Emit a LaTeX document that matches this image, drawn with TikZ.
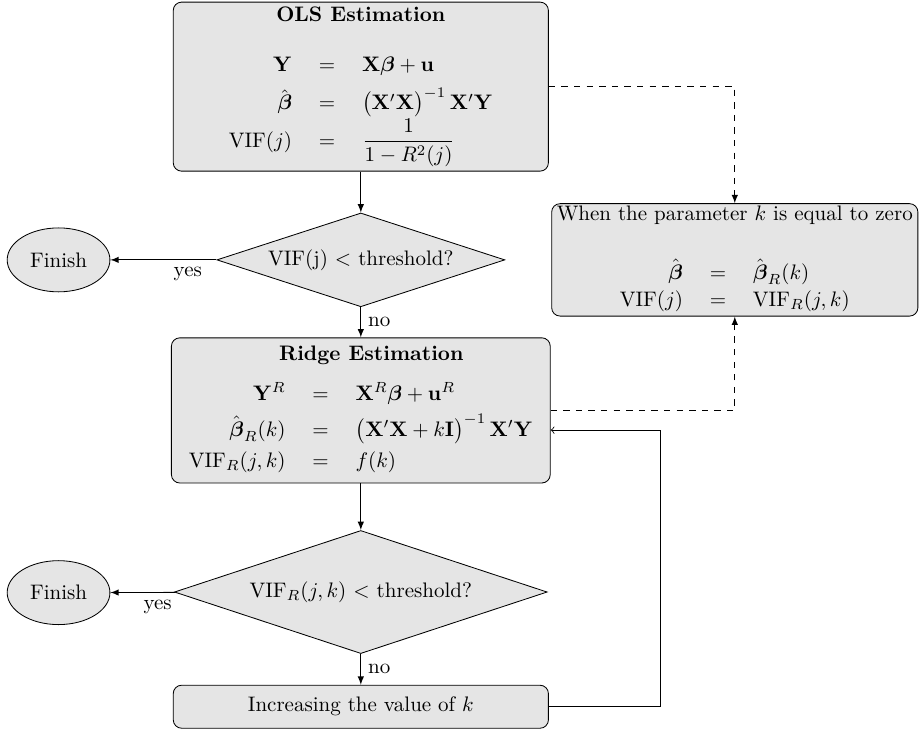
\documentclass[tikz,border=0pt]{standalone}
\usepackage{amsmath,amssymb}
\usetikzlibrary{shapes.geometric}
\begin{document}
\begin{tikzpicture}

% définition des styles
\tikzstyle{boite}=[rectangle,rounded corners,draw,fill=gray!20,align=center,minimum width=6.28cm]
\tikzstyle{losange}=[diamond,draw,fill=gray!20,aspect=3,inner sep=0pt]
\tikzstyle{ovale}=[ellipse,draw,fill=gray!20,minimum width=1.72cm,minimum height=1.07cm]
\tikzstyle{fleche}=[-latex]
\tikzstyle{pointille}=[dashed,-latex]
\tikzstyle{retour}=[->]

\useasboundingbox (0cm,0cm) rectangle (15.40cm,-12.29cm);

% les boites
\node [boite,minimum height=2.83cm,inner ysep=2pt] (mco) at (6.04cm,-1.45cm) {\textbf{OLS Estimation}\\[12pt]
$\begin{array}[t]{rcl}
\mathbf{Y} & {}={} & \mathbf{X}\boldsymbol{\beta}+\mathbf{u}\\[4pt]
\hat{\boldsymbol{\beta}} & {}={} & \bigl(\mathbf{X}'\mathbf{X}\bigr)^{-1}\,\mathbf{X}'\mathbf{Y}\\[1pt]
\mathrm{VIF}(j) & {}={} & \dfrac{1}{1-R^{2}(j)}
\end{array}$};
\node [losange,minimum width=4.82cm,minimum height=1.57cm] (test1) at (6.04cm,-4.35cm) {VIF(j) $<$ threshold?};
\node [ovale] (fin1) at (0.98cm,-4.35cm) {Finish};
\node [boite,minimum height=2.43cm] (ridge) at (6.04cm,-6.87cm) {\hspace*{10pt}\textbf{Ridge Estimation}\\[7pt]
$\begin{array}[t]{rcl}
\mathbf{Y}^{R} & {}={} & \mathbf{X}^{R}\boldsymbol{\beta}+\mathbf{u}^{R}\\[3pt]
\hat{\boldsymbol{\beta}}_{R}(k) & {}={} & \bigl(\mathbf{X}'\mathbf{X}+k\mathbf{I}\bigr)^{-1}\,\mathbf{X}'\mathbf{Y}\\[3pt]
\mathrm{VIF}_{R}(j,k) & {}={} & f(k)
\end{array}$};
\node [losange,minimum width=6.24cm,minimum height=2.06cm] (test2) at (6.04cm,-9.91cm) {$\mathrm{VIF}_{R}(j,k)$ $<$ threshold?};
\node [ovale] (fin2) at (0.98cm,-9.92cm) {Finish};
\node [boite,minimum height=0.72cm] (incr) at (6.04cm,-11.83cm) {Increasing the value of $k$};
\node [boite,minimum width=6.13cm,minimum height=1.88cm,inner xsep=0pt,inner ysep=1pt] (zero) at (12.30cm,-4.35cm) {When the parameter $k$ is equal to zero\\[16pt]
$\begin{array}[t]{rcl}
\hat{\boldsymbol{\beta}} & {}={} & \hat{\boldsymbol{\beta}}_{R}(k)\\[1pt]
\mathrm{VIF}(j) & {}={} & \mathrm{VIF}_{R}(j,k)
\end{array}$};
\coordinate (entree) at ([yshift=-0.33cm]ridge.east);
\coordinate (coin) at (11.05cm,0cm |- entree);

% les fleches
\draw[fleche] (mco) to (test1);
\draw[fleche] (test1) to node[pos=0.27,below]{yes} (fin1);
\draw[fleche] (test1) to node[right]{no} (ridge);
\draw[fleche] (ridge) to (test2);
\draw[fleche] (test2) to node[pos=0.27,below]{yes} (fin2);
\draw[fleche] (test2) to node[right]{no} (incr);
\draw[retour] (incr.east) -| (coin) -- (entree);
\draw[pointille] (mco.east) -| (zero.north);
\draw[pointille] (ridge.east) -| (zero.south);

\end{tikzpicture}
\end{document}
